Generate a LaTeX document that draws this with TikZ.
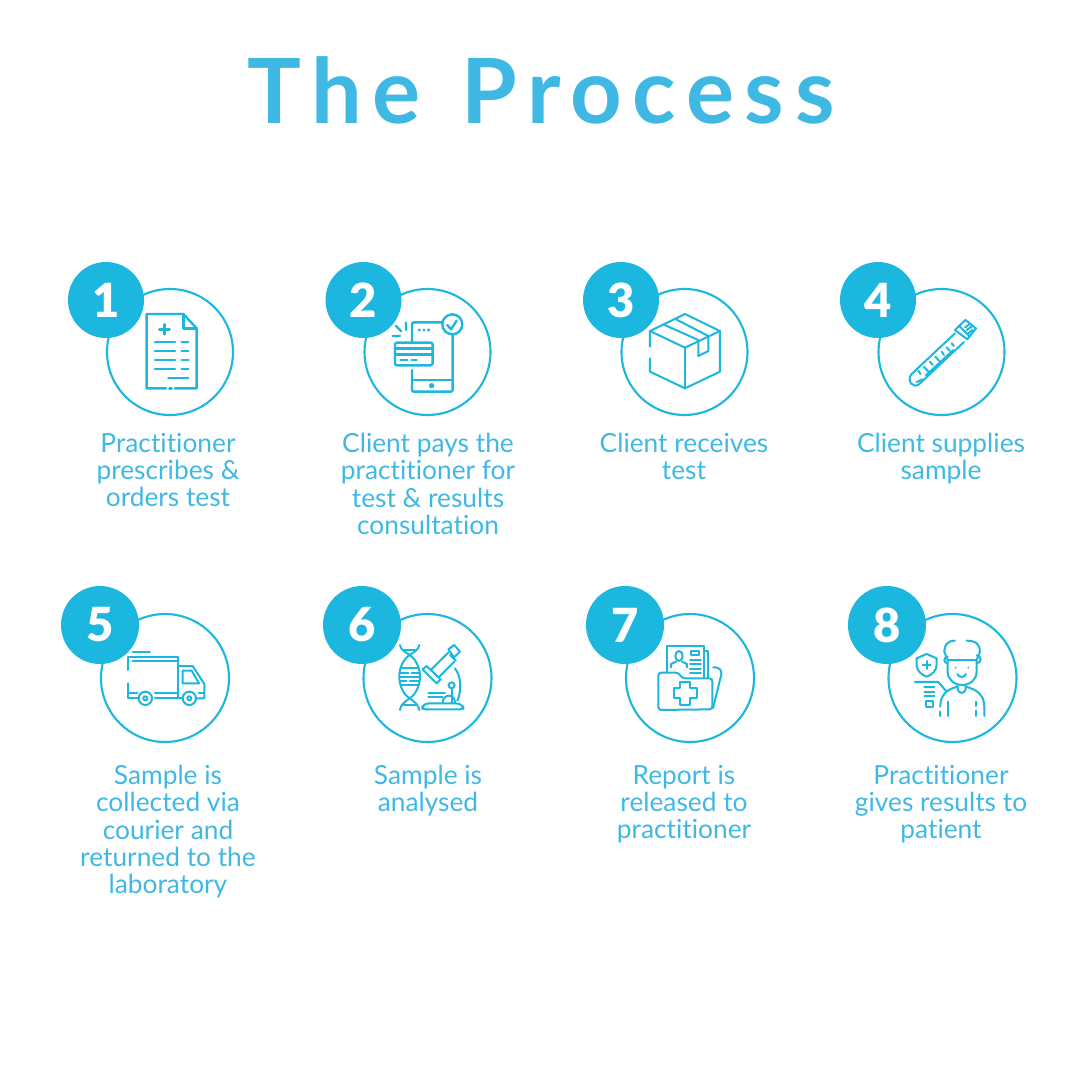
\documentclass[tikz,border=0pt]{standalone}
\usepackage{fontspec}
\setmainfont{Lato}[Ligatures=NoCommon]
\newfontfamily\titlefont[LetterSpace=12,Ligatures=NoCommon]{Lato}
\newfontfamily\digitfont{Lato Black}
\usetikzlibrary{positioning}
\definecolor{badgeblue}{HTML}{1BB7DF}
\definecolor{textblue}{HTML}{3FB9E4}

\begin{document}
\begin{tikzpicture}[
        x=1pt, y=-1pt,
        ring/.style={circle, draw=badgeblue, line width=2.1pt, fill=white, inner sep=0pt},
        badge/.style={circle, fill=badgeblue, text=white, inner sep=0pt, minimum size=76pt, font=\fontsize{47}{47}\selectfont\digitfont},
        caption/.style={anchor=north, text=textblue, align=center, inner sep=0pt, font=\fontsize{26.3}{27.3}\selectfont},
        icon/.style={x=0.3333pt, y=-0.3333pt, draw=badgeblue, line width=2.4pt, line join=round, line cap=round},
        thinicon/.style={icon, line width=2pt}
    ]
    \useasboundingbox (0,0) rectangle (1080,1080);
    \fill [white] (0,0) rectangle (1080,1080);

    \node [text=textblue, font=\fontsize{90}{90}\selectfont\titlefont\bfseries, inner sep=0pt] (title) at (541,90) {The\hspace{8pt} Process};

    % rings, top row
    \node [ring, minimum size=126pt] (ring1) at (170,352) {};
    \node [ring, minimum size=126pt] (ring2) at (427.5,352) {};
    \node [ring, minimum size=126pt] (ring3) at (684.5,352) {};
    \node [ring, minimum size=126pt] (ring4) at (941.5,352) {};
    % rings, bottom row
    \node [ring, minimum size=128pt] (ring5) at (165,678) {};
    \node [ring, minimum size=128pt] (ring6) at (427.5,678) {};
    \node [ring, minimum size=128pt] (ring7) at (690,678) {};
    \node [ring, minimum size=128pt] (ring8) at (952.5,678) {};

    % document
    \begin{scope}[shift={(60,250)}, icon]
        \draw (318,415) -- (260,415) -- (260,192) -- (370,192) -- (410,235) -- (410,415) -- (345,415);
        \draw (370,192) -- (370,235) -- (410,235);
        \draw (328,415) -- (335,415);
        \draw (298,238) -- (329,238) (313,223) -- (313,253);
        \draw (285,276) -- (345,276) (365,276) -- (385,276);
        \draw (285,303) -- (345,303) (365,303) -- (385,303);
        \draw (285,330) -- (345,330) (365,330) -- (385,330);
        \draw (285,357) -- (345,357) (365,357) -- (385,357);
        \draw (325,384) -- (385,384);
    \end{scope}

    % phone and card
    \begin{scope}[shift={(60,250)}, icon]
        \draw [rounded corners=2pt] (1056,278) -- (1056,217) -- (1148,217);
        \draw [rounded corners=2pt] (1178,252) -- (1178,425) -- (1056,425) -- (1056,360);
        \draw (1056,390) -- (1178,390);
        \fill [badgeblue] (1115,407) circle (8);
        \fill [badgeblue] (1078,240) circle (5) (1092,240) circle (5) (1106,240) circle (5);
        \draw (1177,223) circle (30);
        \draw (1162,225) -- (1173,238) -- (1190,212);
        \draw [rounded corners=2pt] (1005,278) rectangle (1118,346);
        \draw (1005,295) -- (1118,295) (1005,314) -- (1118,314);
        \draw (1022,330) -- (1042,330) (1055,330) -- (1070,330);
        \draw (1038,218) -- (1038,240) (1008,228) -- (1023,243) (998,258) -- (1020,258);
    \end{scope}

    % parcel
    \begin{scope}[shift={(570,250)}, thinicon]
        \draw (240,243) -- (345,192) -- (450,243) -- (345,293) -- cycle;
        \draw (240,243) -- (240,290) (240,325) -- (240,365) -- (345,415) -- (450,365) -- (450,243);
        \draw (345,293) -- (345,415);
        \draw (282,224) -- (385,270) -- (385,318) -- (415,303) -- (415,258) -- (318,208);
    \end{scope}

    % test tube
    \begin{scope}[shift={(570,250)}, thinicon]
        \draw (1155,250) -- (1025,372) .. controls (1008,392) and (1030,418) .. (1048,402) -- (1182,276);
        \draw (1155,240) -- (1186,210) -- (1218,235) -- (1192,268) -- cycle;
        \draw (1168,228) -- (1198,258) (1185,232) -- (1200,222) (1190,240) -- (1205,230) (1195,250) -- (1208,240);
        \draw (1040,396) -- (1058,388) (1068,376) -- (1150,300);
        \draw (1045,362) -- (1052,372) (1062,350) -- (1075,365) (1080,335) -- (1088,345) (1096,320) -- (1108,333) (1115,305) -- (1122,315) (1130,292) -- (1140,303) (1145,280) -- (1152,288);
    \end{scope}

    % van
    \begin{scope}[shift={(50,580)}, thinicon]
        \draw (235,270) -- (235,230) -- (385,230) -- (385,355) -- (315,355);
        \draw (248,243) -- (385,243);
        \draw (248,215) -- (300,215);
        \draw (235,310) -- (235,355) -- (265,355);
        \draw (315,340) -- (385,340) (235,340) -- (262,340);
        \draw (385,258) -- (428,258) -- (463,312) -- (463,355) -- (440,355);
        \draw (385,355) -- (396,355) (447,340) -- (463,340);
        \draw (398,272) -- (425,272) -- (447,310) -- (398,310) -- cycle;
        \draw (286,355) circle (20) (286,355) circle (6);
        \draw (418,355) circle (20) (418,355) circle (6);
    \end{scope}

    % helix and microscope
    \begin{scope}[shift={(50,580)}, thinicon]
        \draw (1050,195) .. controls (1052,210) and (1065,215) .. (1079,225) .. controls (1100,240) and (1110,265) .. (1110,290) .. controls (1110,320) and (1095,345) .. (1079,355) .. controls (1062,367) and (1052,375) .. (1050,390);
        \draw (1108,195) .. controls (1106,210) and (1093,215) .. (1079,225) .. controls (1058,240) and (1048,265) .. (1048,290) .. controls (1048,320) and (1063,345) .. (1079,355) .. controls (1096,367) and (1106,375) .. (1108,390);
        \draw (1062,210) -- (1097,210) (1062,375) -- (1097,375);
        \draw (1054,265) -- (1104,265) (1049,278) -- (1075,278) (1085,278) -- (1109,278);
        \draw (1048,290) -- (1110,290) (1049,303) -- (1070,303) (1080,303) -- (1109,303) (1054,315) -- (1104,315);
        \draw (1130,258) -- (1172,298) -- (1160,310) -- (1118,268) -- cycle;
        \draw (1142,270) -- (1195,218) (1165,293) -- (1213,245);
        \draw (1195,208) -- (1213,195) -- (1230,215) -- (1212,232) -- cycle;
        \draw (1200,225) -- (1218,242) (1215,265) .. controls (1235,290) and (1235,335) .. (1222,362);
        \draw (1205,316) circle (9);
        \draw (1205,325) -- (1205,368);
        \draw [rounded corners=3pt] (1117,388) -- (1240,388) -- (1240,378) -- (1225,370) -- (1130,370) -- (1117,378) -- cycle;
        \draw (1135,340) -- (1185,340) (1135,352) -- (1178,352);
        \draw (1178,368) .. controls (1180,340) and (1215,340) .. (1215,368);
    \end{scope}

    % folder
    \begin{scope}[shift={(575,580)}, thinicon]
        \draw (275,275) -- (275,198) -- (388,198) -- (388,292);
        \draw (388,212) -- (400,212) -- (400,292);
        \draw [rounded corners=3pt] (412,388) -- (250,390) -- (250,278) -- (310,278) -- (322,295) -- (412,295) -- cycle;
        \draw [rounded corners=3pt] (415,262) -- (430,262) -- (441,275) -- (414,385);
        \draw (315,305) -- (345,305) -- (345,325) -- (366,325) -- (366,355) -- (345,355) -- (345,375) -- (315,375) -- (315,355) -- (296,355) -- (296,325) -- (315,325) -- cycle;
        \draw (312,228) ellipse (11 and 15);
        \draw (288,262) -- (288,252) -- (303,245) (321,245) -- (336,252) -- (336,262);
        \draw (347,212) rectangle (373,225);
        \draw (345,240) -- (378,240) (345,253) -- (378,253) (345,266) -- (378,266) (345,279) -- (378,279);
    \end{scope}

    % practitioner
    \begin{scope}[shift={(575,580)}, thinicon]
        \draw (1140,182) .. controls (1118,182) and (1108,195) .. (1108,215) -- (1118,240) -- (1205,240) -- (1215,215) .. controls (1215,195) and (1205,182) .. (1175,182);
        \draw (1118,240) -- (1118,275) .. controls (1118,300) and (1140,315) .. (1160,315) .. controls (1185,315) and (1205,300) .. (1205,275) -- (1205,240);
        \draw (1118,250) arc (90:270:10) (1205,250) arc (90:-90:12);
        \fill [badgeblue] (1142,263) circle (3) (1180,263) circle (3);
        \draw (1147,282) .. controls (1152,294) and (1168,294) .. (1173,282);
        \draw (1148,315) -- (1148,328) .. controls (1150,342) and (1170,342) .. (1172,328) -- (1172,315);
        \draw (1096,380) .. controls (1096,345) and (1115,328) .. (1148,320) (1172,320) .. controls (1205,328) and (1228,345) .. (1228,380) -- (1228,408);
        \draw (1096,395) -- (1096,408) (1120,365) -- (1120,408) (1203,365) -- (1203,378) (1203,392) -- (1203,408);
        \draw (1025,235) -- (1055,222) -- (1085,235) -- (1085,255) .. controls (1085,272) and (1070,285) .. (1055,290) .. controls (1040,285) and (1025,272) .. (1025,255) -- cycle;
        \draw (1043,255) -- (1067,255) (1055,243) -- (1055,267);
        \draw (1020,306) -- (1090,306) -- (1115,335);
        \draw (1048,322) -- (1078,322) (1048,335) -- (1078,335) (1048,349) -- (1078,349);
        \draw (1053,362) rectangle (1073,382);
    \end{scope}

    % badges
    \node [badge] (badge1) at (106,300) {1};
    \node [badge] (badge2) at (363.5,300) {2};
    \node [badge] (badge3) at (621,300) {3};
    \node [badge] (badge4) at (878,300) {4};
    \node [badge, minimum size=78pt] (badge5) at (100,625) {5};
    \node [badge, minimum size=78pt] (badge6) at (362,625) {6};
    \node [badge, minimum size=78pt] (badge7) at (625,625) {7};
    \node [badge, minimum size=78pt] (badge8) at (887,625) {8};

    % captions
    \node [caption] (text1) at (168,433) {Practitioner\\prescribes \&\\orders test};
    \node [caption] (text2) at (428,433) {Client pays the\\practitioner for\\test \& results\\consultation};
    \node [caption] (text3) at (684,433) {Client receives\\test};
    \node [caption] (text4) at (941,433) {Client supplies\\sample};
    \node [caption] (text5) at (168,765) {Sample is\\collected via\\courier and\\returned to the\\laboratory};
    \node [caption] (text6) at (428,765) {Sample is\\analysed};
    \node [caption] (text7) at (684,765) {Report is\\released to\\practitioner};
    \node [caption] (text8) at (941,765) {Practitioner\\gives results to\\patient};
\end{tikzpicture}
\end{document}
